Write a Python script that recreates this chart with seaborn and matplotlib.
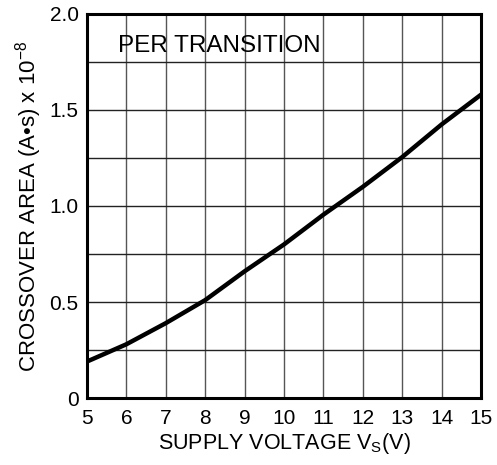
import numpy as np
import pandas as pd
import matplotlib
matplotlib.use("Agg")
import matplotlib.pyplot as plt
import seaborn as sns
from matplotlib.ticker import MultipleLocator, FixedLocator

# values
supply_voltage = [5, 6, 7, 8, 9, 10, 11, 12, 13, 14, 15]
crossover_area = [0.19, 0.28, 0.39, 0.51, 0.66, 0.80, 0.955, 1.10, 1.255, 1.425, 1.58]

y_ticks = [0, 0.5, 1.0, 1.5, 2.0]
y_tick_labels = ["0", "0.5", "1.0", "1.5", "2.0"]
x_ticks = list(range(5, 16))

sns.set_theme(style="white")
plt.rcParams['font.family'] = ['Liberation Sans', 'DejaVu Sans']
plt.rcParams['mathtext.fontset'] = 'custom'
plt.rcParams['mathtext.rm'] = 'Liberation Sans'
plt.rcParams['mathtext.it'] = 'Liberation Sans'

df = pd.DataFrame({'V': supply_voltage, 'A': crossover_area})

fig = plt.figure(figsize=(4.97, 4.65), dpi=100)
ax = fig.add_axes([0.175, 0.144, 0.793, 0.826])

sns.lineplot(data=df, x='V', y='A', ax=ax, color='black', linewidth=3.2)

ax.set_xlim(5, 15)
ax.set_ylim(0, 2.0)
ax.xaxis.set_major_locator(FixedLocator(x_ticks))
ax.yaxis.set_major_locator(FixedLocator(y_ticks))
ax.set_yticklabels(y_tick_labels)
ax.yaxis.set_minor_locator(MultipleLocator(0.25))

ax.grid(True, which='both', axis='y', color='#222222', linewidth=1.0)
ax.grid(True, which='major', axis='x', color='#555555', linewidth=1.0)
ax.set_axisbelow(True)
ax.tick_params(axis='both', which='both', length=0, labelsize=15, colors='black', pad=8)
ax.tick_params(axis='y', pad=6)

for s in ax.spines.values():
    s.set_color('black')
    s.set_linewidth(2.2)

ax.set_xlabel('SUPPLY VOLTAGE V$_\\mathregular{S}$(V)', fontsize=15.5, color='black', labelpad=2)
ax.set_ylabel('CROSSOVER AREA (A\u2022s) x 10$^{\\mathregular{-8}}$', fontsize=16, color='black', labelpad=4)

ax.text(5.78, 1.80, 'PER TRANSITION', fontsize=17.5, color='black', va='baseline', ha='left')

fig.savefig('out.png', dpi=100)
